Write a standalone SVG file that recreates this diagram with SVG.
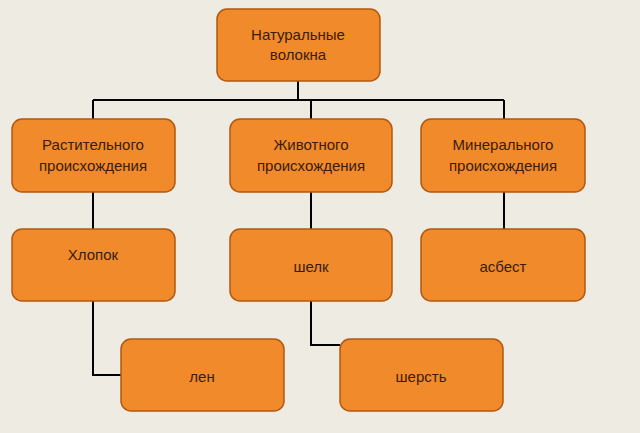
<svg xmlns="http://www.w3.org/2000/svg" width="640" height="433" viewBox="0 0 640 433">
<style>
.b{fill:#f08a2a;stroke:#b3580f;stroke-width:1.5}
.t{font-family:"Liberation Sans",Arial,sans-serif;font-size:15px;fill:#3a1c0c;text-anchor:middle}
.c{fill:none;stroke:#000;stroke-width:2}
</style>
<rect width="640" height="433" fill="#eeebe3"/>
<g id="connectors">
<path class="c" d="M298 81V100M93 100H504M93 100V119M311 100V119M504 100V119M93 192V375H121M311 192V229M311 301V345H340M504 192V229"/>
</g>
<g id="n0"><rect class="b" x="217" y="9" width="163" height="72" rx="10"/><text class="t" x="298" y="40">Натуральные</text><text class="t" x="298" y="60">волокна</text></g>
<g id="n1"><rect class="b" x="12" y="119" width="163" height="73" rx="10"/><text class="t" x="93" y="150">Растительного</text><text class="t" x="93" y="171">происхождения</text></g>
<g id="n2"><rect class="b" x="230" y="119" width="162" height="73" rx="10"/><text class="t" x="311" y="150">Животного</text><text class="t" x="311" y="171">происхождения</text></g>
<g id="n3"><rect class="b" x="421" y="119" width="164" height="73" rx="10"/><text class="t" x="503" y="150">Минерального</text><text class="t" x="503" y="171">происхождения</text></g>
<g id="n4"><rect class="b" x="12" y="229" width="163" height="72" rx="10"/><text class="t" x="93" y="260">Хлопок</text></g>
<g id="n5"><rect class="b" x="230" y="229" width="162" height="72" rx="10"/><text class="t" x="311" y="272">шелк</text></g>
<g id="n6"><rect class="b" x="421" y="229" width="164" height="72" rx="10"/><text class="t" x="503" y="272">асбест</text></g>
<g id="n7"><rect class="b" x="121" y="339" width="163" height="72" rx="10"/><text class="t" x="202" y="382">лен</text></g>
<g id="n8"><rect class="b" x="340" y="339" width="163" height="72" rx="10"/><text class="t" x="421" y="382">шерсть</text></g>
</svg>
